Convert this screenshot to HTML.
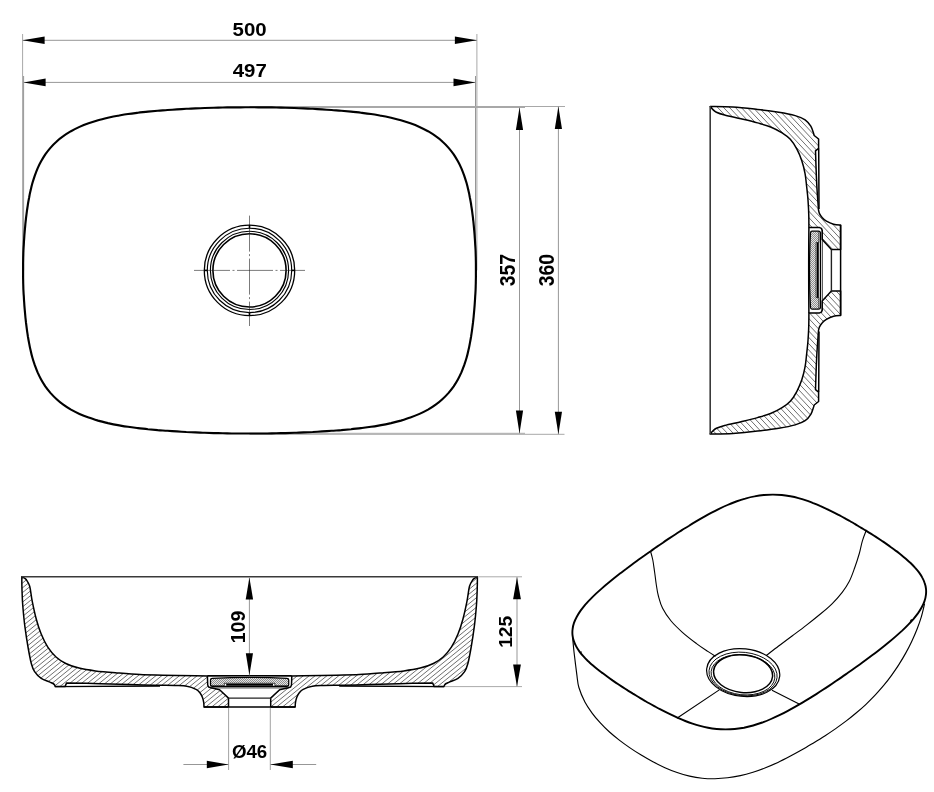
<!DOCTYPE html>
<html><head><meta charset="utf-8"><title>Washbasin drawing</title>
<style>
html,body{margin:0;padding:0;background:#fff;}
body{width:934px;height:792px;overflow:hidden;}
svg{display:block;will-change:transform;}
text{font-family:"Liberation Sans",sans-serif;font-weight:bold;fill:#000;}
</style></head><body>
<svg width="934" height="792" viewBox="0 0 934 792">
<rect width="934" height="792" fill="#fff"/>
<!-- top view -->
<line x1="22.6" y1="34" x2="22.6" y2="270.3" stroke="#a8a8a8" stroke-width="1"/>
<line x1="23.6" y1="76" x2="23.6" y2="270.3" stroke="#8a8a8a" stroke-width="0.9"/>
<line x1="476.9" y1="34" x2="476.9" y2="270.3" stroke="#a8a8a8" stroke-width="1"/>
<line x1="475.5" y1="76" x2="475.5" y2="270.3" stroke="#8a8a8a" stroke-width="0.9"/>
<line x1="249.5" y1="106.5" x2="565" y2="106.5" stroke="#a8a8a8" stroke-width="1"/>
<line x1="249.5" y1="107.5" x2="525" y2="107.5" stroke="#a8a8a8" stroke-width="1"/>
<line x1="249.5" y1="434.3" x2="564.5" y2="434.3" stroke="#a8a8a8" stroke-width="1"/>
<line x1="249.5" y1="433.3" x2="525" y2="433.3" stroke="#a8a8a8" stroke-width="1"/>
<line x1="22.6" y1="40.3" x2="476.9" y2="40.3" stroke="#979797" stroke-width="1"/>
<line x1="23.6" y1="82.4" x2="475.5" y2="82.4" stroke="#979797" stroke-width="1"/>
<line x1="519.5" y1="107.5" x2="519.5" y2="433.3" stroke="#979797" stroke-width="1"/>
<line x1="558.4" y1="106.5" x2="558.4" y2="434.3" stroke="#979797" stroke-width="1"/>
<polygon points="22.6,40.3 44.6,36.5 44.6,44.1" fill="#000"/>
<polygon points="476.9,40.3 454.9,36.5 454.9,44.1" fill="#000"/>
<polygon points="23.6,82.4 45.6,78.6 45.6,86.2" fill="#000"/>
<polygon points="475.5,82.4 453.5,78.6 453.5,86.2" fill="#000"/>
<polygon points="519.5,107.5 515.9,130.1 523.1,130.1" fill="#000"/>
<polygon points="519.5,433.4 515.9,410.6 523.1,410.6" fill="#000"/>
<polygon points="558.4,106.5 554.8,129.1 562,129.1" fill="#000"/>
<polygon points="558.4,434.2 554.8,411.8 562,411.8" fill="#000"/>
<text transform="translate(249.6 35.6) scale(1.075 1)" font-size="19" text-anchor="middle">500</text>
<text transform="translate(249.8 77.3) scale(1.075 1)" font-size="19" text-anchor="middle">497</text>
<text transform="translate(515.4 270.2) rotate(-90) scale(0.915 1)" font-size="21.2" text-anchor="middle">357</text>
<text transform="translate(553.9 270.2) rotate(-90) scale(0.915 1)" font-size="21.2" text-anchor="middle">360</text>
<path d="M475.9 270.4C475.9 272.5 475.9 274.7 475.9 276.8C475.9 278.9 475.8 281.1 475.8 283.2C475.7 285.4 475.7 287.5 475.6 289.7C475.5 291.8 475.4 294 475.2 296.2C475.1 298.3 475 300.5 474.8 302.7C474.7 304.9 474.5 307.1 474.3 309.3C474.1 311.5 473.9 313.7 473.7 316C473.5 318.2 473.2 320.5 473 322.7C472.7 325 472.4 327.3 472.1 329.6C471.8 331.9 471.4 334.2 471.1 336.5C470.7 338.9 470.3 341.2 469.8 343.6C469.4 346 468.9 348.4 468.3 350.7C467.8 353.1 467.2 355.6 466.5 358C465.8 360.4 465 362.8 464.2 365.2C463.3 367.6 462.4 370 461.4 372.4C460.3 374.8 459.2 377.2 457.9 379.5C456.6 381.8 455.2 384.1 453.7 386.4C452.1 388.6 450.4 390.8 448.6 392.9C446.7 395 444.8 397.1 442.6 399C440.5 401 438.2 402.9 435.7 404.6C433.3 406.4 430.7 408 428 409.6C425.3 411.1 422.5 412.5 419.5 413.9C416.6 415.2 413.5 416.4 410.4 417.5C407.3 418.6 404.1 419.6 400.9 420.6C397.7 421.5 394.4 422.3 391.1 423.1C387.8 423.8 384.4 424.5 381.1 425.1C377.7 425.7 374.4 426.3 371 426.8C367.7 427.3 364.3 427.7 361 428.1C357.7 428.5 354.4 428.8 351.1 429.2C347.8 429.5 344.5 429.8 341.3 430.1C338 430.3 334.8 430.6 331.6 430.8C328.4 431 325.3 431.2 322.1 431.4C319 431.6 315.8 431.8 312.7 432C309.6 432.1 306.5 432.3 303.5 432.4C300.4 432.5 297.4 432.7 294.3 432.8C291.3 432.9 288.3 433 285.3 433.1C282.2 433.2 279.2 433.2 276.3 433.3C273.3 433.4 270.3 433.4 267.3 433.5C264.3 433.5 261.4 433.5 258.4 433.5C255.4 433.5 252.5 433.5 249.5 433.5C246.5 433.5 243.6 433.5 240.6 433.5C237.6 433.5 234.7 433.5 231.7 433.5C228.7 433.4 225.7 433.4 222.7 433.3C219.8 433.2 216.8 433.2 213.7 433.1C210.7 433 207.7 432.9 204.7 432.8C201.6 432.7 198.6 432.5 195.5 432.4C192.5 432.3 189.4 432.1 186.3 432C183.2 431.8 180 431.6 176.9 431.4C173.7 431.2 170.6 431 167.4 430.8C164.2 430.6 161 430.3 157.7 430.1C154.5 429.8 151.2 429.5 147.9 429.2C144.6 428.8 141.3 428.5 138 428.1C134.7 427.7 131.3 427.3 128 426.8C124.6 426.3 121.3 425.7 117.9 425.1C114.6 424.5 111.2 423.8 107.9 423.1C104.6 422.3 101.3 421.5 98.1 420.6C94.9 419.6 91.7 418.6 88.6 417.5C85.5 416.4 82.4 415.2 79.5 413.9C76.5 412.5 73.7 411.1 71 409.6C68.3 408 65.7 406.4 63.3 404.6C60.8 402.9 58.5 401 56.4 399C54.2 397.1 52.3 395 50.4 392.9C48.6 390.8 46.9 388.6 45.3 386.4C43.8 384.1 42.4 381.8 41.1 379.5C39.8 377.2 38.7 374.8 37.6 372.4C36.6 370 35.7 367.6 34.8 365.2C34 362.8 33.2 360.4 32.5 358C31.8 355.6 31.2 353.1 30.7 350.7C30.1 348.4 29.6 346 29.2 343.6C28.7 341.2 28.3 338.9 27.9 336.5C27.6 334.2 27.2 331.9 26.9 329.6C26.6 327.3 26.3 325 26 322.7C25.8 320.5 25.5 318.2 25.3 316C25.1 313.7 24.9 311.5 24.7 309.3C24.5 307.1 24.3 304.9 24.2 302.7C24 300.5 23.9 298.3 23.8 296.2C23.6 294 23.5 291.8 23.4 289.7C23.3 287.5 23.3 285.4 23.2 283.2C23.2 281.1 23.1 278.9 23.1 276.8C23.1 274.7 23.1 272.5 23.1 270.4C23.1 268.3 23.1 266.1 23.1 264C23.1 261.9 23.2 259.7 23.2 257.6C23.3 255.4 23.3 253.3 23.4 251.1C23.5 249 23.6 246.8 23.8 244.6C23.9 242.5 24 240.3 24.2 238.1C24.3 235.9 24.5 233.7 24.7 231.5C24.9 229.3 25.1 227.1 25.3 224.8C25.5 222.6 25.8 220.3 26 218.1C26.3 215.8 26.6 213.5 26.9 211.2C27.2 208.9 27.6 206.6 27.9 204.3C28.3 201.9 28.7 199.6 29.2 197.2C29.6 194.8 30.1 192.4 30.7 190.1C31.2 187.7 31.8 185.2 32.5 182.8C33.2 180.4 34 178 34.8 175.6C35.7 173.2 36.6 170.8 37.6 168.4C38.7 166 39.8 163.6 41.1 161.3C42.4 159 43.8 156.7 45.3 154.4C46.9 152.2 48.6 150 50.4 147.9C52.3 145.8 54.2 143.7 56.4 141.8C58.5 139.8 60.8 137.9 63.3 136.2C65.7 134.4 68.3 132.8 71 131.2C73.7 129.7 76.5 128.3 79.5 126.9C82.4 125.6 85.5 124.4 88.6 123.3C91.7 122.2 94.9 121.2 98.1 120.2C101.3 119.3 104.6 118.5 107.9 117.7C111.2 117 114.6 116.3 117.9 115.7C121.3 115.1 124.6 114.5 128 114C131.3 113.5 134.7 113.1 138 112.7C141.3 112.3 144.6 112 147.9 111.6C151.2 111.3 154.5 111 157.7 110.7C161 110.5 164.2 110.2 167.4 110C170.6 109.8 173.7 109.6 176.9 109.4C180 109.2 183.2 109 186.3 108.8C189.4 108.7 192.5 108.5 195.5 108.4C198.6 108.3 201.6 108.1 204.7 108C207.7 107.9 210.7 107.8 213.7 107.7C216.8 107.6 219.8 107.6 222.7 107.5C225.7 107.4 228.7 107.4 231.7 107.3C234.7 107.3 237.6 107.3 240.6 107.3C243.6 107.3 246.5 107.2 249.5 107.2C252.5 107.2 255.4 107.3 258.4 107.3C261.4 107.3 264.3 107.3 267.3 107.3C270.3 107.4 273.3 107.4 276.3 107.5C279.2 107.6 282.2 107.6 285.3 107.7C288.3 107.8 291.3 107.9 294.3 108C297.4 108.1 300.4 108.3 303.5 108.4C306.5 108.5 309.6 108.7 312.7 108.8C315.8 109 319 109.2 322.1 109.4C325.3 109.6 328.4 109.8 331.6 110C334.8 110.2 338 110.5 341.3 110.7C344.5 111 347.8 111.3 351.1 111.6C354.4 112 357.7 112.3 361 112.7C364.3 113.1 367.7 113.5 371 114C374.4 114.5 377.7 115.1 381.1 115.7C384.4 116.3 387.8 117 391.1 117.7C394.4 118.5 397.7 119.3 400.9 120.2C404.1 121.2 407.3 122.2 410.4 123.3C413.5 124.4 416.6 125.6 419.5 126.9C422.5 128.3 425.3 129.7 428 131.2C430.7 132.8 433.3 134.4 435.7 136.2C438.2 137.9 440.5 139.8 442.6 141.8C444.8 143.7 446.7 145.8 448.6 147.9C450.4 150 452.1 152.2 453.7 154.4C455.2 156.7 456.6 159 457.9 161.3C459.2 163.6 460.3 166 461.4 168.4C462.4 170.8 463.3 173.2 464.2 175.6C465 178 465.8 180.4 466.5 182.8C467.2 185.2 467.8 187.7 468.3 190.1C468.9 192.4 469.4 194.8 469.8 197.2C470.3 199.6 470.7 201.9 471.1 204.3C471.4 206.6 471.8 208.9 472.1 211.2C472.4 213.5 472.7 215.8 473 218.1C473.2 220.3 473.5 222.6 473.7 224.8C473.9 227.1 474.1 229.3 474.3 231.5C474.5 233.7 474.7 235.9 474.8 238.1C475 240.3 475.1 242.5 475.2 244.6C475.4 246.8 475.5 249 475.6 251.1C475.7 253.3 475.7 255.4 475.8 257.6C475.8 259.7 475.9 261.9 475.9 264C475.9 266.1 475.9 268.3 475.9 270.4Z" fill="none" stroke="#000" stroke-width="2.15"/>
<circle cx="249.5" cy="270.4" r="45.2" fill="none" stroke="#000" stroke-width="1.3"/>
<circle cx="249.5" cy="270.4" r="42.2" fill="none" stroke="#000" stroke-width="1.15"/>
<circle cx="249.5" cy="270.4" r="39.1" fill="none" stroke="#000" stroke-width="1.15"/>
<circle cx="249.5" cy="270.4" r="36.6" fill="none" stroke="#000" stroke-width="1.6"/>
<path d="M194 270.4H305" stroke="#222" stroke-width="0.6" stroke-dasharray="36 2.5 2 2.5" fill="none"/>
<path d="M249.5 215.6V326" stroke="#222" stroke-width="0.6" stroke-dasharray="36 2.5 2 2.5" fill="none"/>
<line x1="249.5" y1="224.9" x2="249.5" y2="228.4" stroke="#000" stroke-width="1.6"/>
<line x1="249.5" y1="312.4" x2="249.5" y2="315.9" stroke="#000" stroke-width="1.6"/>
<line x1="204" y1="270.4" x2="207.5" y2="270.4" stroke="#000" stroke-width="1.6"/>
<line x1="291.5" y1="270.4" x2="295" y2="270.4" stroke="#000" stroke-width="1.6"/>
<!-- side section -->
<defs><clipPath id="cs"><path d="M710.2 106.5C714 106.6 724.9 106.6 732.8 107.1C740.7 107.6 749.8 108.6 757.5 109.4C765.2 110.2 772.5 111.2 778.8 112.2C785.1 113.2 790.8 114.3 795.2 115.6C799.6 116.9 802.5 118 805.1 119.8C807.7 121.6 809.4 123.9 810.8 126.2C812.2 128.5 813.1 132.3 813.6 133.5L814.2 135.5L818.6 139L818.6 148.4L815.5 150.8C815.6 155.2 816.1 169.6 816.4 177C816.7 184.4 817 189.5 817.4 195C817.8 200.5 818.3 207.5 818.5 210C818.7 210.6 818.9 212.3 819.5 213.6C820.1 214.9 821.1 216.5 822.3 217.8C823.4 219.1 824.5 220.1 826.4 221.2C828.3 222.3 831.2 223.6 833.6 224.2C836 224.8 839.4 224.9 840.6 225L840.6 249.4L831.4 249.4L822.2 239.4L822.2 230.4L821.4 228.4L819.6 227.6L808.9 227.6C808.9 225.2 808.9 217.8 808.7 213.2C808.6 208.6 808.3 204.4 808 200C807.7 195.6 807.2 191.4 806.7 187C806.2 182.6 805.9 178.2 805.1 173.8C804.3 169.4 803.2 164.8 801.8 160.7C800.4 156.6 798.8 152.8 796.9 149.2C795 145.6 792.8 142 790.3 139.3C787.8 136.6 785.4 134.9 782.1 132.8C778.8 130.8 774.7 128.7 770.6 127C766.5 125.3 762.4 124.3 757.5 122.9C752.6 121.5 746.5 120.1 741 118.8C735.5 117.5 728.7 116.1 724.6 115C720.5 113.9 718.5 113.2 716.4 112.2C714.3 111.2 713.3 110 712.3 109C711.3 108 710.6 106.9 710.2 106.5Z"/><path d="M710.2 434C714 433.9 724.9 433.9 732.8 433.4C740.7 432.9 749.8 432 757.5 431.1C765.2 430.2 772.5 429.3 778.8 428.3C785.1 427.3 790.8 426.2 795.2 424.9C799.6 423.6 802.5 422.5 805.1 420.7C807.7 418.9 809.4 416.6 810.8 414.3C812.2 412 813.1 408.2 813.6 407L814.2 405L818.6 401.5L818.6 392.1L815.5 389.7C815.6 385.3 816.1 370.9 816.4 363.5C816.7 356.1 817 351 817.4 345.5C817.8 340 818.3 333 818.5 330.5C818.7 329.9 818.9 328.2 819.5 326.9C820.1 325.6 821.1 324 822.3 322.7C823.4 321.4 824.5 320.4 826.4 319.3C828.3 318.2 831.2 316.9 833.6 316.3C836 315.7 839.4 315.6 840.6 315.5L840.6 291.1L831.4 291.1L822.2 301.1L822.2 310.1L821.4 312.1L819.6 312.9L808.9 312.9C808.9 315.3 808.9 322.7 808.7 327.3C808.6 331.9 808.3 336.1 808 340.5C807.7 344.9 807.2 349.1 806.7 353.5C806.2 357.9 805.9 362.3 805.1 366.7C804.3 371.1 803.2 375.7 801.8 379.8C800.4 383.9 798.8 387.7 796.9 391.3C795 394.9 792.8 398.5 790.3 401.2C787.8 403.9 785.4 405.6 782.1 407.7C778.8 409.8 774.7 411.9 770.6 413.5C766.5 415.1 762.4 416.2 757.5 417.6C752.6 419 746.5 420.4 741 421.7C735.5 423 728.7 424.4 724.6 425.5C720.5 426.6 718.5 427.3 716.4 428.3C714.3 429.3 713.3 430.6 712.3 431.5C711.3 432.4 710.6 433.6 710.2 434Z"/></clipPath>
<clipPath id="cc1"><path d="M812 231.2H818.9V242.6H816V297.6H818.9V309H812Q810.7 309 810.6 307.2Q808.6 270.1 810.6 233Q810.7 231.2 812 231.2Z"/></clipPath></defs>
<path d="M280 100L654 500M285.9 100L659.9 500M291.8 100L665.8 500M297.7 100L671.7 500M303.6 100L677.6 500M309.5 100L683.5 500M315.4 100L689.4 500M321.3 100L695.3 500M327.2 100L701.2 500M333.1 100L707.1 500M339 100L713 500M344.9 100L718.9 500M350.8 100L724.8 500M356.7 100L730.7 500M362.6 100L736.6 500M368.5 100L742.5 500M374.4 100L748.4 500M380.3 100L754.3 500M386.2 100L760.2 500M392.1 100L766.1 500M398 100L772 500M403.9 100L777.9 500M409.8 100L783.8 500M415.7 100L789.7 500M421.6 100L795.6 500M427.5 100L801.5 500M433.4 100L807.4 500M439.3 100L813.3 500M445.2 100L819.2 500M451.1 100L825.1 500M457 100L831 500M462.9 100L836.9 500M468.8 100L842.8 500M474.7 100L848.7 500M480.6 100L854.6 500M486.5 100L860.5 500M492.4 100L866.4 500M498.3 100L872.3 500M504.2 100L878.2 500M510.1 100L884.1 500M516 100L890 500M521.9 100L895.9 500M527.8 100L901.8 500M533.7 100L907.7 500M539.6 100L913.6 500M545.5 100L919.5 500M551.4 100L925.4 500M557.3 100L931.3 500M563.2 100L937.2 500M569.1 100L943.1 500M575 100L949 500M580.9 100L954.9 500M586.8 100L960.8 500M592.7 100L966.7 500M598.6 100L972.6 500M604.5 100L978.5 500M610.4 100L984.4 500M616.3 100L990.3 500M622.2 100L996.2 500M628.1 100L1002.1 500M634 100L1008 500M639.9 100L1013.9 500M645.8 100L1019.8 500M651.7 100L1025.7 500M657.6 100L1031.6 500M663.5 100L1037.5 500M669.4 100L1043.4 500M675.3 100L1049.3 500M681.2 100L1055.2 500M687.1 100L1061.1 500M693 100L1067 500M698.9 100L1072.9 500M704.8 100L1078.8 500M710.7 100L1084.7 500M716.6 100L1090.6 500M722.5 100L1096.5 500M728.4 100L1102.4 500M734.3 100L1108.3 500M740.2 100L1114.2 500M746.1 100L1120.1 500M752 100L1126 500M757.9 100L1131.9 500M763.8 100L1137.8 500M769.7 100L1143.7 500M775.6 100L1149.6 500M781.5 100L1155.5 500M787.4 100L1161.4 500M793.3 100L1167.3 500M799.2 100L1173.2 500M805.1 100L1179.1 500M811 100L1185 500M816.9 100L1190.9 500M822.8 100L1196.8 500M828.7 100L1202.7 500M834.6 100L1208.6 500M840.5 100L1214.5 500M846.4 100L1220.4 500M852.3 100L1226.3 500M858.2 100L1232.2 500M864.1 100L1238.1 500M870 100L1244 500M875.9 100L1249.9 500M881.8 100L1255.8 500M887.7 100L1261.7 500M893.6 100L1267.6 500M899.5 100L1273.5 500" stroke="#4a4a4a" stroke-width="0.8" fill="none" clip-path="url(#cs)"/>
<path d="M710.2 106.5C714 106.6 724.9 106.6 732.8 107.1C740.7 107.6 749.8 108.6 757.5 109.4C765.2 110.2 772.5 111.2 778.8 112.2C785.1 113.2 790.8 114.3 795.2 115.6C799.6 116.9 802.5 118 805.1 119.8C807.7 121.6 809.4 123.9 810.8 126.2C812.2 128.5 813.1 132.3 813.6 133.5L814.2 135.5L818.6 139L818.6 148.4L815.5 150.8C815.6 155.2 816.1 169.6 816.4 177C816.7 184.4 817 189.5 817.4 195C817.8 200.5 818.3 207.5 818.5 210C818.7 210.6 818.9 212.3 819.5 213.6C820.1 214.9 821.1 216.5 822.3 217.8C823.4 219.1 824.5 220.1 826.4 221.2C828.3 222.3 831.2 223.6 833.6 224.2C836 224.8 839.4 224.9 840.6 225L840.6 249.4L831.4 249.4L822.2 239.4L822.2 230.4L821.4 228.4L819.6 227.6L808.9 227.6C808.9 225.2 808.9 217.8 808.7 213.2C808.6 208.6 808.3 204.4 808 200C807.7 195.6 807.2 191.4 806.7 187C806.2 182.6 805.9 178.2 805.1 173.8C804.3 169.4 803.2 164.8 801.8 160.7C800.4 156.6 798.8 152.8 796.9 149.2C795 145.6 792.8 142 790.3 139.3C787.8 136.6 785.4 134.9 782.1 132.8C778.8 130.8 774.7 128.7 770.6 127C766.5 125.3 762.4 124.3 757.5 122.9C752.6 121.5 746.5 120.1 741 118.8C735.5 117.5 728.7 116.1 724.6 115C720.5 113.9 718.5 113.2 716.4 112.2C714.3 111.2 713.3 110 712.3 109C711.3 108 710.6 106.9 710.2 106.5Z" fill="none" stroke="#000" stroke-width="1.5" stroke-linejoin="round"/>
<path d="M710.2 434C714 433.9 724.9 433.9 732.8 433.4C740.7 432.9 749.8 432 757.5 431.1C765.2 430.2 772.5 429.3 778.8 428.3C785.1 427.3 790.8 426.2 795.2 424.9C799.6 423.6 802.5 422.5 805.1 420.7C807.7 418.9 809.4 416.6 810.8 414.3C812.2 412 813.1 408.2 813.6 407L814.2 405L818.6 401.5L818.6 392.1L815.5 389.7C815.6 385.3 816.1 370.9 816.4 363.5C816.7 356.1 817 351 817.4 345.5C817.8 340 818.3 333 818.5 330.5C818.7 329.9 818.9 328.2 819.5 326.9C820.1 325.6 821.1 324 822.3 322.7C823.4 321.4 824.5 320.4 826.4 319.3C828.3 318.2 831.2 316.9 833.6 316.3C836 315.7 839.4 315.6 840.6 315.5L840.6 291.1L831.4 291.1L822.2 301.1L822.2 310.1L821.4 312.1L819.6 312.9L808.9 312.9C808.9 315.3 808.9 322.7 808.7 327.3C808.6 331.9 808.3 336.1 808 340.5C807.7 344.9 807.2 349.1 806.7 353.5C806.2 357.9 805.9 362.3 805.1 366.7C804.3 371.1 803.2 375.7 801.8 379.8C800.4 383.9 798.8 387.7 796.9 391.3C795 394.9 792.8 398.5 790.3 401.2C787.8 403.9 785.4 405.6 782.1 407.7C778.8 409.8 774.7 411.9 770.6 413.5C766.5 415.1 762.4 416.2 757.5 417.6C752.6 419 746.5 420.4 741 421.7C735.5 423 728.7 424.4 724.6 425.5C720.5 426.6 718.5 427.3 716.4 428.3C714.3 429.3 713.3 430.6 712.3 431.5C711.3 432.4 710.6 433.6 710.2 434Z" fill="none" stroke="#000" stroke-width="1.5" stroke-linejoin="round"/>
<line x1="710.2" y1="106.2" x2="710.2" y2="434.3" stroke="#3a3a3a" stroke-width="1.6"/>
<path d="M818.7 148.4L819 209M818.7 392.1L819 331.5" stroke="#000" stroke-width="1.5" fill="none"/>
<path d="M831.4 249.4V291.1" stroke="#222" stroke-width="1.4" fill="none"/>
<path d="M840.6 225V315.5" stroke="#000" stroke-width="1.5" fill="none"/>
<path d="M822.3 230V310.5" stroke="#000" stroke-width="0.8" fill="none"/>
<path d="M808.9 227.6Q808.5 270.2 808.9 312.9" stroke="#000" stroke-width="1.5" fill="none"/>
<path d="M812 231.2H818.9V242.6H816V297.6H818.9V309H812Q810.7 309 810.6 307.2Q808.6 270.1 810.6 233Q810.7 231.2 812 231.2Z" fill="#e4e4e4"/>
<path d="M560 320L660 220M562 320L662 220M564 320L664 220M566 320L666 220M568 320L668 220M570 320L670 220M572 320L672 220M574 320L674 220M576 320L676 220M578 320L678 220M580 320L680 220M582 320L682 220M584 320L684 220M586 320L686 220M588 320L688 220M590 320L690 220M592 320L692 220M594 320L694 220M596 320L696 220M598 320L698 220M600 320L700 220M602 320L702 220M604 320L704 220M606 320L706 220M608 320L708 220M610 320L710 220M612 320L712 220M614 320L714 220M616 320L716 220M618 320L718 220M620 320L720 220M622 320L722 220M624 320L724 220M626 320L726 220M628 320L728 220M630 320L730 220M632 320L732 220M634 320L734 220M636 320L736 220M638 320L738 220M640 320L740 220M642 320L742 220M644 320L744 220M646 320L746 220M648 320L748 220M650 320L750 220M652 320L752 220M654 320L754 220M656 320L756 220M658 320L758 220M660 320L760 220M662 320L762 220M664 320L764 220M666 320L766 220M668 320L768 220M670 320L770 220M672 320L772 220M674 320L774 220M676 320L776 220M678 320L778 220M680 320L780 220M682 320L782 220M684 320L784 220M686 320L786 220M688 320L788 220M690 320L790 220M692 320L792 220M694 320L794 220M696 320L796 220M698 320L798 220M700 320L800 220M702 320L802 220M704 320L804 220M706 320L806 220M708 320L808 220M710 320L810 220M712 320L812 220M714 320L814 220M716 320L816 220M718 320L818 220M720 320L820 220M722 320L822 220M724 320L824 220M726 320L826 220M728 320L828 220M730 320L830 220M732 320L832 220M734 320L834 220M736 320L836 220M738 320L838 220M740 320L840 220M742 320L842 220M744 320L844 220M746 320L846 220M748 320L848 220M750 320L850 220M752 320L852 220M754 320L854 220M756 320L856 220M758 320L858 220M760 320L860 220M762 320L862 220M764 320L864 220M766 320L866 220M768 320L868 220M770 320L870 220M772 320L872 220M774 320L874 220M776 320L876 220M778 320L878 220M780 320L880 220M782 320L882 220M784 320L884 220M786 320L886 220M788 320L888 220M790 320L890 220M792 320L892 220M794 320L894 220M796 320L896 220M798 320L898 220M800 320L900 220M802 320L902 220M804 320L904 220M806 320L906 220M808 320L908 220M810 320L910 220M812 320L912 220M814 320L914 220M816 320L916 220M818 320L918 220M820 320L920 220M822 320L922 220M824 320L924 220M826 320L926 220M828 320L928 220M830 320L930 220M832 320L932 220M834 320L934 220M836 320L936 220M838 320L938 220M840 320L940 220M842 320L942 220M844 320L944 220M846 320L946 220M848 320L948 220M850 320L950 220M852 320L952 220M854 320L954 220M856 320L956 220M858 320L958 220M860 320L960 220M862 320L962 220M864 320L964 220M866 320L966 220M868 320L968 220M870 320L970 220M872 320L972 220M874 320L974 220M876 320L976 220M878 320L978 220M880 320L980 220M882 320L982 220M884 320L984 220M886 320L986 220M888 320L988 220M890 320L990 220M892 320L992 220M894 320L994 220M896 320L996 220M898 320L998 220M900 320L1000 220M902 320L1002 220M904 320L1004 220M906 320L1006 220M908 320L1008 220M910 320L1010 220M912 320L1012 220M914 320L1014 220M916 320L1016 220M918 320L1018 220M920 320L1020 220M922 320L1022 220M924 320L1024 220M926 320L1026 220M928 320L1028 220M930 320L1030 220M932 320L1032 220M934 320L1034 220M936 320L1036 220M938 320L1038 220M940 320L1040 220M942 320L1042 220M944 320L1044 220M946 320L1046 220M948 320L1048 220M950 320L1050 220M952 320L1052 220M954 320L1054 220M956 320L1056 220M958 320L1058 220" stroke="#555" stroke-width="0.6" fill="none" clip-path="url(#cc1)"/>
<path d="M812 231.1H818.4Q820.4 231.1 820.4 233V307.2Q820.4 309.1 818.4 309.1H812Q810.6 309.1 810.5 307.2Q808.5 270.1 810.5 233Q810.6 231.1 812 231.1Z" fill="none" stroke="#000" stroke-width="1.25"/>
<path d="M818.9 231.5V242.6H816.1V297.6H818.9V308.7" fill="none" stroke="#000" stroke-width="0.7"/>
<path d="M817.8 242.6V297.6" stroke="#000" stroke-width="2" fill="none"/>
<!-- front section -->
<defs><clipPath id="cf"><path d="M21.8 576.7C21.8 578.9 21.8 585.1 22 590C22.2 594.9 22.3 600 22.8 606C23.3 612 23.9 619 24.8 625.8C25.7 632.6 26.9 640.7 28 647C29.1 653.3 30.2 659.4 31.3 663.5C32.4 667.6 33 669.2 34.6 671.7C36.2 674.2 38.7 676.6 41.2 678.3C43.7 680 47.4 681 49.4 681.9C51.4 682.8 52.1 683 53 683.5C53.9 684 54.2 684.5 54.6 685C55 685.5 55.1 686.3 55.2 686.6L65 686.6L66.6 682.9C72.2 683 89.4 683.4 100 683.7C110.6 684 120.8 684.4 130 684.6C139.2 684.9 147.5 685.1 155 685.2C162.5 685.4 169.7 685.3 175 685.5C180.3 685.7 183.5 685.6 187 686.3C190.5 686.9 193.8 688.3 196 689.4C198.2 690.5 198.8 691.5 199.9 692.8C201 694.1 201.8 695.7 202.4 697.3C203 698.9 203.4 700.7 203.7 702.3C204 703.9 203.9 706.3 204 707.1L228.5 707.1L228.5 698.1L219.6 689.8L211 687.8L208.6 687L207.7 685L207.4 675.9C205.4 675.9 203.1 675.9 195.7 675.8C188.3 675.7 172.1 675.4 162.8 675.2C153.5 675 147.7 675 140 674.6C132.3 674.2 124.1 673.5 116.7 672.9C109.3 672.3 101.7 671.7 95.4 670.9C89.1 670.1 83.9 669.3 79 668.1C74.1 666.9 69.6 665.4 65.8 663.5C62 661.6 59 659.7 56 657C53 654.3 50.3 650.9 47.8 647.1C45.3 643.3 43.1 638.6 41.2 634C39.3 629.4 37.8 624.7 36.3 619.2C34.8 613.7 33.3 606.6 32.2 601.1C31.1 595.6 30.7 589.8 29.7 586.3C28.7 582.8 27.3 581.2 26.4 579.8C25.4 578.4 24.8 578.3 24 577.8C23.2 577.3 22.2 576.9 21.8 576.7Z"/><path d="M477.4 576.7C477.4 578.9 477.4 585.1 477.2 590C477 594.9 476.9 600 476.4 606C475.9 612 475.3 619 474.4 625.8C473.5 632.6 472.3 640.7 471.2 647C470.1 653.3 469 659.4 467.9 663.5C466.8 667.6 466.2 669.2 464.6 671.7C462.9 674.2 460.5 676.6 458 678.3C455.5 680 451.8 681 449.8 681.9C447.8 682.8 447.1 683 446.2 683.5C445.3 684 445 684.5 444.6 685C444.2 685.5 444.1 686.3 444 686.6L434.2 686.6L432.6 682.9C427 683 409.8 683.4 399.2 683.7C388.6 684 378.4 684.4 369.2 684.6C360 684.9 351.7 685.1 344.2 685.2C336.7 685.4 329.5 685.3 324.2 685.5C318.9 685.7 315.7 685.6 312.2 686.3C308.7 686.9 305.4 688.3 303.2 689.4C301 690.5 300.4 691.5 299.3 692.8C298.2 694.1 297.4 695.7 296.8 697.3C296.2 698.9 295.8 700.7 295.5 702.3C295.2 703.9 295.2 706.3 295.2 707.1L270.7 707.1L270.7 698.1L279.6 689.8L288.2 687.8L290.6 687L291.5 685L291.8 675.9C293.7 675.9 296.1 675.9 303.5 675.8C310.9 675.7 327.1 675.4 336.4 675.2C345.7 675 351.5 675 359.2 674.6C366.9 674.2 375.1 673.5 382.5 672.9C389.9 672.3 397.5 671.7 403.8 670.9C410.1 670.1 415.3 669.3 420.2 668.1C425.1 666.9 429.6 665.4 433.4 663.5C437.2 661.6 440.2 659.7 443.2 657C446.2 654.3 448.9 650.9 451.4 647.1C453.9 643.3 456.1 638.6 458 634C459.9 629.4 461.4 624.7 462.9 619.2C464.4 613.7 465.9 606.6 467 601.1C468.1 595.6 468.5 589.8 469.5 586.3C470.5 582.8 471.9 581.2 472.8 579.8C473.8 578.4 474.4 578.3 475.2 577.8C476 577.3 477 576.9 477.4 576.7Z"/></clipPath>
<clipPath id="cc2"><path d="M210.6 679.8V684.6Q210.6 685.8 212 685.8H224.3V683.3H274.9V685.8H287.2Q288.6 685.8 288.6 684.6V679.8Q288.6 678.6 286.8 678.5Q249.6 676.6 212.4 678.5Q210.6 678.6 210.6 679.8Z"/></clipPath></defs>
<path d="M-300 720L-100 558M-294.1 720L-94.1 558M-288.2 720L-88.2 558M-282.3 720L-82.3 558M-276.4 720L-76.4 558M-270.5 720L-70.5 558M-264.6 720L-64.6 558M-258.7 720L-58.7 558M-252.8 720L-52.8 558M-246.9 720L-46.9 558M-241 720L-41 558M-235.1 720L-35.1 558M-229.2 720L-29.2 558M-223.3 720L-23.3 558M-217.4 720L-17.4 558M-211.5 720L-11.5 558M-205.6 720L-5.6 558M-199.7 720L0.3 558M-193.8 720L6.2 558M-187.9 720L12.1 558M-182 720L18 558M-176.1 720L23.9 558M-170.2 720L29.8 558M-164.3 720L35.7 558M-158.4 720L41.6 558M-152.5 720L47.5 558M-146.6 720L53.4 558M-140.7 720L59.3 558M-134.8 720L65.2 558M-128.9 720L71.1 558M-123 720L77 558M-117.1 720L82.9 558M-111.2 720L88.8 558M-105.3 720L94.7 558M-99.4 720L100.6 558M-93.5 720L106.5 558M-87.6 720L112.4 558M-81.7 720L118.3 558M-75.8 720L124.2 558M-69.9 720L130.1 558M-64 720L136 558M-58.1 720L141.9 558M-52.2 720L147.8 558M-46.3 720L153.7 558M-40.4 720L159.6 558M-34.5 720L165.5 558M-28.6 720L171.4 558M-22.7 720L177.3 558M-16.8 720L183.2 558M-10.9 720L189.1 558M-5 720L195 558M0.9 720L200.9 558M6.8 720L206.8 558M12.7 720L212.7 558M18.6 720L218.6 558M24.5 720L224.5 558M30.4 720L230.4 558M36.3 720L236.3 558M42.2 720L242.2 558M48.1 720L248.1 558M54 720L254 558M59.9 720L259.9 558M65.8 720L265.8 558M71.7 720L271.7 558M77.6 720L277.6 558M83.5 720L283.5 558M89.4 720L289.4 558M95.3 720L295.3 558M101.2 720L301.2 558M107.1 720L307.1 558M113 720L313 558M118.9 720L318.9 558M124.8 720L324.8 558M130.7 720L330.7 558M136.6 720L336.6 558M142.5 720L342.5 558M148.4 720L348.4 558M154.3 720L354.3 558M160.2 720L360.2 558M166.1 720L366.1 558M172 720L372 558M177.9 720L377.9 558M183.8 720L383.8 558M189.7 720L389.7 558M195.6 720L395.6 558M201.5 720L401.5 558M207.4 720L407.4 558M213.3 720L413.3 558M219.2 720L419.2 558M225.1 720L425.1 558M231 720L431 558M236.9 720L436.9 558M242.8 720L442.8 558M248.7 720L448.7 558M254.6 720L454.6 558M260.5 720L460.5 558M266.4 720L466.4 558M272.3 720L472.3 558M278.2 720L478.2 558M284.1 720L484.1 558M290 720L490 558M295.9 720L495.9 558M301.8 720L501.8 558M307.7 720L507.7 558M313.6 720L513.6 558M319.5 720L519.5 558M325.4 720L525.4 558M331.3 720L531.3 558M337.2 720L537.2 558M343.1 720L543.1 558M349 720L549 558M354.9 720L554.9 558M360.8 720L560.8 558M366.7 720L566.7 558M372.6 720L572.6 558M378.5 720L578.5 558M384.4 720L584.4 558M390.3 720L590.3 558M396.2 720L596.2 558M402.1 720L602.1 558M408 720L608 558M413.9 720L613.9 558M419.8 720L619.8 558M425.7 720L625.7 558M431.6 720L631.6 558M437.5 720L637.5 558M443.4 720L643.4 558M449.3 720L649.3 558M455.2 720L655.2 558M461.1 720L661.1 558M467 720L667 558M472.9 720L672.9 558M478.8 720L678.8 558M484.7 720L684.7 558M490.6 720L690.6 558M496.5 720L696.5 558M502.4 720L702.4 558M508.3 720L708.3 558M514.2 720L714.2 558M520.1 720L720.1 558M526 720L726 558M531.9 720L731.9 558M537.8 720L737.8 558M543.7 720L743.7 558M549.6 720L749.6 558M555.5 720L755.5 558M561.4 720L761.4 558M567.3 720L767.3 558M573.2 720L773.2 558M579.1 720L779.1 558M585 720L785 558M590.9 720L790.9 558M596.8 720L796.8 558M602.7 720L802.7 558M608.6 720L808.6 558M614.5 720L814.5 558M620.4 720L820.4 558M626.3 720L826.3 558M632.2 720L832.2 558M638.1 720L838.1 558M644 720L844 558M649.9 720L849.9 558M655.8 720L855.8 558M661.7 720L861.7 558M667.6 720L867.6 558M673.5 720L873.5 558M679.4 720L879.4 558M685.3 720L885.3 558M691.2 720L891.2 558M697.1 720L897.1 558" stroke="#4a4a4a" stroke-width="0.8" fill="none" clip-path="url(#cf)"/>
<path d="M21.8 576.7C21.8 578.9 21.8 585.1 22 590C22.2 594.9 22.3 600 22.8 606C23.3 612 23.9 619 24.8 625.8C25.7 632.6 26.9 640.7 28 647C29.1 653.3 30.2 659.4 31.3 663.5C32.4 667.6 33 669.2 34.6 671.7C36.2 674.2 38.7 676.6 41.2 678.3C43.7 680 47.4 681 49.4 681.9C51.4 682.8 52.1 683 53 683.5C53.9 684 54.2 684.5 54.6 685C55 685.5 55.1 686.3 55.2 686.6L65 686.6L66.6 682.9C72.2 683 89.4 683.4 100 683.7C110.6 684 120.8 684.4 130 684.6C139.2 684.9 147.5 685.1 155 685.2C162.5 685.4 169.7 685.3 175 685.5C180.3 685.7 183.5 685.6 187 686.3C190.5 686.9 193.8 688.3 196 689.4C198.2 690.5 198.8 691.5 199.9 692.8C201 694.1 201.8 695.7 202.4 697.3C203 698.9 203.4 700.7 203.7 702.3C204 703.9 203.9 706.3 204 707.1L228.5 707.1L228.5 698.1L219.6 689.8L211 687.8L208.6 687L207.7 685L207.4 675.9C205.4 675.9 203.1 675.9 195.7 675.8C188.3 675.7 172.1 675.4 162.8 675.2C153.5 675 147.7 675 140 674.6C132.3 674.2 124.1 673.5 116.7 672.9C109.3 672.3 101.7 671.7 95.4 670.9C89.1 670.1 83.9 669.3 79 668.1C74.1 666.9 69.6 665.4 65.8 663.5C62 661.6 59 659.7 56 657C53 654.3 50.3 650.9 47.8 647.1C45.3 643.3 43.1 638.6 41.2 634C39.3 629.4 37.8 624.7 36.3 619.2C34.8 613.7 33.3 606.6 32.2 601.1C31.1 595.6 30.7 589.8 29.7 586.3C28.7 582.8 27.3 581.2 26.4 579.8C25.4 578.4 24.8 578.3 24 577.8C23.2 577.3 22.2 576.9 21.8 576.7Z" fill="none" stroke="#000" stroke-width="1.5" stroke-linejoin="round"/>
<path d="M477.4 576.7C477.4 578.9 477.4 585.1 477.2 590C477 594.9 476.9 600 476.4 606C475.9 612 475.3 619 474.4 625.8C473.5 632.6 472.3 640.7 471.2 647C470.1 653.3 469 659.4 467.9 663.5C466.8 667.6 466.2 669.2 464.6 671.7C462.9 674.2 460.5 676.6 458 678.3C455.5 680 451.8 681 449.8 681.9C447.8 682.8 447.1 683 446.2 683.5C445.3 684 445 684.5 444.6 685C444.2 685.5 444.1 686.3 444 686.6L434.2 686.6L432.6 682.9C427 683 409.8 683.4 399.2 683.7C388.6 684 378.4 684.4 369.2 684.6C360 684.9 351.7 685.1 344.2 685.2C336.7 685.4 329.5 685.3 324.2 685.5C318.9 685.7 315.7 685.6 312.2 686.3C308.7 686.9 305.4 688.3 303.2 689.4C301 690.5 300.4 691.5 299.3 692.8C298.2 694.1 297.4 695.7 296.8 697.3C296.2 698.9 295.8 700.7 295.5 702.3C295.2 703.9 295.2 706.3 295.2 707.1L270.7 707.1L270.7 698.1L279.6 689.8L288.2 687.8L290.6 687L291.5 685L291.8 675.9C293.7 675.9 296.1 675.9 303.5 675.8C310.9 675.7 327.1 675.4 336.4 675.2C345.7 675 351.5 675 359.2 674.6C366.9 674.2 375.1 673.5 382.5 672.9C389.9 672.3 397.5 671.7 403.8 670.9C410.1 670.1 415.3 669.3 420.2 668.1C425.1 666.9 429.6 665.4 433.4 663.5C437.2 661.6 440.2 659.7 443.2 657C446.2 654.3 448.9 650.9 451.4 647.1C453.9 643.3 456.1 638.6 458 634C459.9 629.4 461.4 624.7 462.9 619.2C464.4 613.7 465.9 606.6 467 601.1C468.1 595.6 468.5 589.8 469.5 586.3C470.5 582.8 471.9 581.2 472.8 579.8C473.8 578.4 474.4 578.3 475.2 577.8C476 577.3 477 576.9 477.4 576.7Z" fill="none" stroke="#000" stroke-width="1.5" stroke-linejoin="round"/>
<line x1="21.4" y1="576.8" x2="477.8" y2="576.8" stroke="#3a3a3a" stroke-width="1.6"/>
<path d="M55.2 686.6L160 686M444 686.6L339.2 686" stroke="#000" stroke-width="1.4" fill="none"/>
<path d="M228.5 698.1H270.7" stroke="#222" stroke-width="1.4" fill="none"/>
<path d="M204 707.1H295.2" stroke="#000" stroke-width="1.5" fill="none"/>
<path d="M211 687.9H288.2" stroke="#000" stroke-width="0.8" fill="none"/>
<path d="M207.4 675.9Q249.6 675.6 291.8 675.9" stroke="#000" stroke-width="1.6" fill="none"/>
<path d="M210.6 679.8V684.6Q210.6 685.8 212 685.8H224.3V683.3H274.9V685.8H287.2Q288.6 685.8 288.6 684.6V679.8Q288.6 678.6 286.8 678.5Q249.6 676.6 212.4 678.5Q210.6 678.6 210.6 679.8Z" fill="#e4e4e4"/>
<path d="M100 670L130 700M102 670L132 700M104 670L134 700M106 670L136 700M108 670L138 700M110 670L140 700M112 670L142 700M114 670L144 700M116 670L146 700M118 670L148 700M120 670L150 700M122 670L152 700M124 670L154 700M126 670L156 700M128 670L158 700M130 670L160 700M132 670L162 700M134 670L164 700M136 670L166 700M138 670L168 700M140 670L170 700M142 670L172 700M144 670L174 700M146 670L176 700M148 670L178 700M150 670L180 700M152 670L182 700M154 670L184 700M156 670L186 700M158 670L188 700M160 670L190 700M162 670L192 700M164 670L194 700M166 670L196 700M168 670L198 700M170 670L200 700M172 670L202 700M174 670L204 700M176 670L206 700M178 670L208 700M180 670L210 700M182 670L212 700M184 670L214 700M186 670L216 700M188 670L218 700M190 670L220 700M192 670L222 700M194 670L224 700M196 670L226 700M198 670L228 700M200 670L230 700M202 670L232 700M204 670L234 700M206 670L236 700M208 670L238 700M210 670L240 700M212 670L242 700M214 670L244 700M216 670L246 700M218 670L248 700M220 670L250 700M222 670L252 700M224 670L254 700M226 670L256 700M228 670L258 700M230 670L260 700M232 670L262 700M234 670L264 700M236 670L266 700M238 670L268 700M240 670L270 700M242 670L272 700M244 670L274 700M246 670L276 700M248 670L278 700M250 670L280 700M252 670L282 700M254 670L284 700M256 670L286 700M258 670L288 700M260 670L290 700M262 670L292 700M264 670L294 700M266 670L296 700M268 670L298 700M270 670L300 700M272 670L302 700M274 670L304 700M276 670L306 700M278 670L308 700M280 670L310 700M282 670L312 700M284 670L314 700M286 670L316 700M288 670L318 700M290 670L320 700M292 670L322 700M294 670L324 700M296 670L326 700M298 670L328 700M300 670L330 700M302 670L332 700M304 670L334 700M306 670L336 700M308 670L338 700M310 670L340 700M312 670L342 700M314 670L344 700M316 670L346 700M318 670L348 700M320 670L350 700M322 670L352 700M324 670L354 700M326 670L356 700M328 670L358 700M330 670L360 700M332 670L362 700M334 670L364 700M336 670L366 700M338 670L368 700M340 670L370 700M342 670L372 700M344 670L374 700M346 670L376 700M348 670L378 700M350 670L380 700M352 670L382 700M354 670L384 700M356 670L386 700M358 670L388 700M360 670L390 700M362 670L392 700M364 670L394 700M366 670L396 700M368 670L398 700M370 670L400 700M372 670L402 700M374 670L404 700M376 670L406 700M378 670L408 700M380 670L410 700M382 670L412 700M384 670L414 700M386 670L416 700M388 670L418 700M390 670L420 700M392 670L422 700M394 670L424 700M396 670L426 700M398 670L428 700" stroke="#555" stroke-width="0.6" fill="none" clip-path="url(#cc2)"/>
<path d="M210.5 679.8V684.4Q210.5 686.3 212.4 686.3H286.8Q288.7 686.3 288.7 684.4V679.8Q288.7 678.5 286.8 678.4Q249.6 676.5 212.4 678.4Q210.5 678.5 210.5 679.8Z" fill="none" stroke="#000" stroke-width="1.25"/>
<path d="M211 685.8H224.3V683.3H274.9V685.8H288.2" fill="none" stroke="#000" stroke-width="0.7"/>
<path d="M226.2 684.8H273" stroke="#000" stroke-width="1.9" fill="none"/>
<line x1="249.4" y1="577" x2="249.4" y2="675.3" stroke="#979797" stroke-width="1"/>
<polygon points="249.4,577.4 245.7,599.4 253.1,599.4" fill="#000"/>
<polygon points="249.4,675.3 245.8,653.3 253,653.3" fill="#000"/>
<text transform="translate(245.2 627) rotate(-90) scale(1.0 1)" font-size="19.6" text-anchor="middle">109</text>
<line x1="478.5" y1="576.8" x2="522" y2="576.8" stroke="#aaa" stroke-width="1"/>
<line x1="445" y1="686.6" x2="522" y2="686.6" stroke="#aaa" stroke-width="1"/>
<line x1="517" y1="577" x2="517" y2="686.5" stroke="#979797" stroke-width="1"/>
<polygon points="517,577.2 513.1,599.2 520.9,599.2" fill="#000"/>
<polygon points="517,686.4 513.1,664.4 520.9,664.4" fill="#000"/>
<text transform="translate(512.2 631.8) rotate(-90) scale(1.0 1)" font-size="19.2" text-anchor="middle">125</text>
<line x1="228.6" y1="707.8" x2="228.6" y2="770" stroke="#999" stroke-width="0.9"/>
<line x1="270.3" y1="707.8" x2="270.3" y2="770" stroke="#999" stroke-width="0.9"/>
<line x1="183.4" y1="764.5" x2="228.6" y2="764.5" stroke="#979797" stroke-width="1"/>
<line x1="270.3" y1="764.5" x2="316.2" y2="764.5" stroke="#979797" stroke-width="1"/>
<polygon points="228.6,764.5 206.8,760.8 206.8,768.2" fill="#000"/>
<polygon points="270.3,764.5 292.8,760.8 292.8,768.2" fill="#000"/>
<text transform="translate(249.6 758.2) scale(1.0 1)" font-size="18.7" text-anchor="middle">&#216;46</text>
<!-- iso -->
<path d="M865.6 530.4C867.3 531.5 869 532.6 870.8 533.6C872.5 534.7 874.2 535.8 875.9 536.9C877.6 538 879.3 539.1 881 540.2C882.7 541.3 884.3 542.5 886 543.6C887.7 544.8 889.4 546 891 547.2C892.7 548.4 894.4 549.6 896 550.9C897.7 552.1 899.3 553.4 901 554.7C902.6 556 904.2 557.4 905.8 558.8C907.4 560.2 909 561.6 910.6 563C912.1 564.5 913.6 566 915 567.6C916.4 569.1 917.8 570.8 919 572.4C920.2 574.1 921.4 575.8 922.3 577.6C923.3 579.4 924.1 581.2 924.7 583.1C925.4 585 925.8 586.9 926 588.9C926.2 590.9 926.2 592.9 925.9 595C925.7 597 925.2 599.1 924.5 601.1C923.8 603.2 922.8 605.3 921.7 607.3C920.6 609.4 919.3 611.4 917.9 613.4C916.4 615.4 914.8 617.4 913.2 619.4C911.5 621.3 909.7 623.3 907.8 625.1C906 627 904.1 628.8 902.2 630.6C900.2 632.4 898.2 634.2 896.3 635.9C894.3 637.7 892.3 639.4 890.3 641C888.2 642.7 886.2 644.3 884.2 645.9C882.2 647.5 880.2 649.1 878.2 650.7C876.2 652.3 874.2 653.8 872.1 655.3C870.1 656.8 868.1 658.3 866.1 659.8C864.1 661.3 862.1 662.8 860.1 664.2C858.1 665.7 856 667.1 854 668.5C852 670 850 671.4 847.9 672.8C845.9 674.2 843.9 675.7 841.8 677.1C839.8 678.5 837.7 679.9 835.6 681.3C833.6 682.8 831.5 684.2 829.3 685.6C827.2 687 825.1 688.4 822.9 689.8C820.7 691.3 818.5 692.7 816.3 694.1C814 695.5 811.8 696.9 809.4 698.4C807.1 699.8 804.8 701.2 802.4 702.6C800 704.1 797.5 705.5 795 706.9C792.5 708.3 790 709.7 787.4 711.1C784.8 712.5 782.1 713.9 779.4 715.2C776.6 716.5 773.8 717.8 771 719C768.1 720.3 765.2 721.5 762.3 722.5C759.3 723.6 756.3 724.6 753.2 725.5C750.2 726.3 747.1 727.1 744 727.7C740.9 728.2 737.8 728.7 734.7 729C731.7 729.3 728.6 729.4 725.6 729.4C722.5 729.4 719.6 729.3 716.7 729C713.8 728.7 710.9 728.3 708.1 727.7C705.4 727.2 702.7 726.6 700.1 725.9C697.5 725.2 694.9 724.4 692.5 723.6C690 722.8 687.6 721.9 685.3 721C683 720.1 680.7 719.1 678.5 718.1C676.3 717.2 674.2 716.2 672.1 715.2C670 714.2 667.9 713.2 665.9 712.2C663.9 711.2 661.9 710.2 660 709.2C658 708.2 656.1 707.1 654.3 706.1C652.4 705.1 650.5 704.1 648.7 703C646.9 702 645.1 700.9 643.3 699.9C641.6 698.9 639.8 697.8 638.1 696.8C636.3 695.7 634.6 694.6 632.9 693.6C631.2 692.5 629.5 691.5 627.7 690.4C626 689.3 624.3 688.2 622.6 687.1C620.9 686 619.2 684.9 617.5 683.8C615.8 682.7 614.2 681.5 612.5 680.4C610.8 679.2 609.1 678 607.5 676.8C605.8 675.6 604.1 674.4 602.5 673.1C600.8 671.9 599.2 670.6 597.5 669.3C595.9 668 594.3 666.6 592.7 665.2C591.1 663.9 589.5 662.4 587.9 661C586.4 659.5 584.9 658 583.5 656.4C582.1 654.9 580.7 653.3 579.5 651.6C578.3 649.9 577.1 648.2 576.2 646.4C575.2 644.6 574.4 642.8 573.8 640.9C573.1 639 572.7 637.1 572.5 635.1C572.3 633.1 572.3 631.1 572.6 629.1C572.8 627 573.3 624.9 574 622.9C574.7 620.8 575.7 618.7 576.8 616.7C577.9 614.6 579.2 612.6 580.6 610.6C582.1 608.6 583.7 606.6 585.3 604.6C587 602.7 588.8 600.8 590.7 598.9C592.5 597 594.4 595.2 596.3 593.4C598.3 591.6 600.3 589.8 602.2 588.1C604.2 586.3 606.2 584.6 608.2 583C610.3 581.3 612.3 579.7 614.3 578.1C616.3 576.5 618.3 574.9 620.3 573.3C622.3 571.8 624.3 570.2 626.4 568.7C628.4 567.2 630.4 565.7 632.4 564.2C634.4 562.7 636.4 561.3 638.4 559.8C640.4 558.3 642.5 556.9 644.5 555.5C646.5 554 648.5 552.6 650.6 551.2C652.6 549.8 654.6 548.3 656.7 546.9C658.7 545.5 660.8 544.1 662.9 542.7C664.9 541.2 667 539.8 669.2 538.4C671.3 537 673.4 535.6 675.6 534.2C677.8 532.8 680 531.3 682.2 529.9C684.5 528.5 686.7 527.1 689.1 525.7C691.4 524.2 693.7 522.8 696.1 521.4C698.5 520 701 518.5 703.5 517.1C706 515.7 708.5 514.3 711.1 512.9C713.7 511.5 716.4 510.1 719.1 508.8C721.9 507.5 724.7 506.2 727.5 505C730.4 503.7 733.3 502.6 736.2 501.5C739.2 500.4 742.2 499.4 745.3 498.6C748.3 497.7 751.4 496.9 754.5 496.4C757.6 495.8 760.7 495.3 763.8 495C766.9 494.7 769.9 494.6 772.9 494.6C776 494.6 778.9 494.8 781.8 495C784.7 495.3 787.6 495.8 790.4 496.3C793.1 496.8 795.8 497.4 798.4 498.1C801 498.8 803.6 499.6 806 500.4C808.5 501.3 810.9 502.1 813.2 503.1C815.5 504 817.8 504.9 820 505.9C822.2 506.8 824.3 507.8 826.4 508.8C828.5 509.8 830.6 510.8 832.6 511.8C834.6 512.8 836.6 513.8 838.5 514.8C840.5 515.9 842.4 516.9 844.2 517.9C846.1 518.9 848 520 849.8 521C851.6 522 853.4 523.1 855.2 524.1C856.9 525.2 858.7 526.2 860.4 527.3C862.2 528.3 863.9 529.4 865.6 530.4Z" fill="none" stroke="#000" stroke-width="1.9"/>
<path d="M572.7 637.5C572.8 639.1 573.2 643.9 573.5 647C573.8 650.1 574.1 653 574.5 656C574.9 659 575.2 661.7 575.6 665C576 668.3 576.5 672.2 577 676C577.5 679.8 577.6 683.2 578.9 687.5C580.2 691.8 582.7 697.8 584.9 702C587.1 706.2 589.4 709.3 591.9 712.8C594.4 716.2 597.2 719.5 600.1 722.7C603 725.9 606 728.9 609.2 731.8C612.4 734.7 615.8 737.4 619.3 740.1C622.8 742.8 626.4 745.4 630 747.9C633.6 750.4 637.4 752.8 641.2 755.1C645 757.4 649 759.7 652.9 761.8C656.8 763.9 660.9 765.9 664.9 767.7C668.9 769.5 673 771.1 677.1 772.5C681.2 773.9 685.4 775.1 689.6 776.1C693.8 777.1 698 777.8 702.2 778.2C706.4 778.6 710.7 778.8 714.9 778.7C719.1 778.6 723.4 778.3 727.6 777.8C731.9 777.3 736.2 776.5 740.4 775.6C744.6 774.7 748.8 773.5 753 772.2C757.2 770.9 761.4 769.3 765.5 767.7C769.6 766.1 773.8 764.3 777.9 762.4C782 760.5 786 758.4 790 756.3C794 754.2 798 752 801.9 749.8C805.8 747.6 809.7 745.2 813.5 742.9C817.3 740.6 821.1 738.3 824.8 735.9C828.5 733.5 832.1 731.1 835.7 728.6C839.3 726.1 842.8 723.5 846.3 720.9C849.8 718.3 853.1 715.6 856.4 712.8C859.7 710 862.9 707.2 866 704.3C869.1 701.3 872.1 698.2 875.1 695.1C878.1 692 880.9 688.7 883.7 685.4C886.5 682.1 889.2 678.6 891.7 675.1C894.2 671.6 896.7 668.1 899 664.4C901.3 660.7 903.6 656.9 905.7 653.1C907.8 649.3 909.8 645.4 911.7 641.4C913.6 637.4 915.4 633.3 917 629.2C918.6 625.1 920.1 620.9 921.4 616.6C922.7 612.3 924.1 605.8 924.6 603.6" fill="none" stroke="#000" stroke-width="1.15"/>
<path d="M650.6 551.5C651 552.9 652.1 556.6 652.8 560C653.5 563.4 654 568 654.6 572C655.2 576 655.6 580 656.2 584C656.8 588 657.3 592 658.4 596C659.5 600 660.5 604.1 662.6 608.3C664.7 612.5 667.8 617 671.1 621C674.4 625 678.2 628.5 682.4 632.3C686.6 636.1 692.3 640.4 696.5 643.6C700.7 646.8 704.6 649.3 707.8 651.4C711 653.5 714.3 655.5 715.6 656.3" fill="none" stroke="#000" stroke-width="1.1"/>
<path d="M866.3 530.2C865.6 532 863.6 536.9 862.4 540.8C861.2 544.7 860.6 549 859.3 553.5C858 558 856.3 563.3 854.6 568C852.9 572.7 851.3 577.5 849.2 581.5C847.1 585.5 845.1 588.6 842.2 592.3C839.3 596 835.6 600.3 832 603.9C828.4 607.5 825 610.3 820.7 613.8C816.5 617.3 811.2 621.5 806.5 625.1C801.8 628.8 797.1 632.2 792.4 635.7C787.7 639.2 782.6 643 778.3 646.3C773.9 649.6 768.3 654 766.3 655.5" fill="none" stroke="#000" stroke-width="1.1"/>
<path d="M676.9 718.2L719.3 689.9M772 690.2L799.6 704.3M910.2 621.6L911.6 619.4M580.4 653.6L581.4 651.4" fill="none" stroke="#000" stroke-width="1.1"/>
<g transform="translate(743.2 672.6) rotate(6)">
<ellipse rx="36.7" ry="23.8" fill="none" stroke="#000" stroke-width="1.2"/>
<ellipse rx="34.2" ry="21.7" cy="1.4" fill="none" stroke="#000" stroke-width="0.9"/>
<ellipse rx="32" ry="20" cy="2.2" fill="none" stroke="#000" stroke-width="0.9"/>
<ellipse rx="29.6" ry="18.8" cy="1.1" fill="none" stroke="#000" stroke-width="1.5"/>
</g>
</svg>
</body></html>
